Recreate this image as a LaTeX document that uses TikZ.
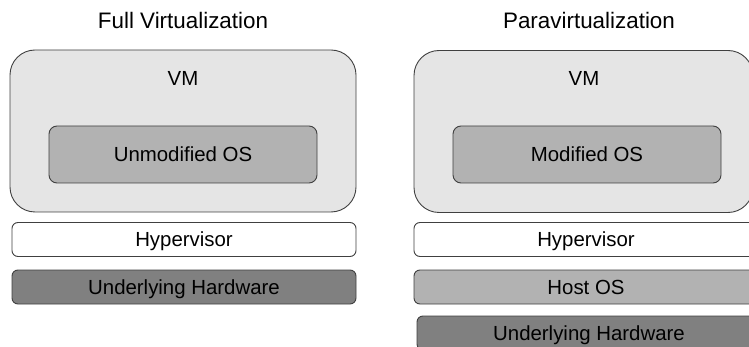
\documentclass[tikz,border=0pt]{standalone}
\usepackage{fontspec}
\setmainfont{Liberation Sans}
\begin{document}
\begin{tikzpicture}[x=1pt,y=-1pt,
  txt/.style={font=\fontsize{20.4}{24}\selectfont, text height=14.6pt, text depth=0pt},
  layer/.style={txt, draw=black!75, line width=0.9pt, rounded corners=6pt,
    minimum width=344pt, minimum height=34pt, inner sep=0pt},
  vmbox/.style={draw=black!75, line width=0.9pt, rounded corners=25pt,
    fill=black!10, minimum height=162pt, inner sep=0pt},
  osbox/.style={txt, draw=black!75, line width=0.9pt, rounded corners=8pt,
    fill=black!30, minimum width=268pt, minimum height=57pt, inner sep=0pt},
  lbl/.style={txt, inner sep=0pt},
  title/.style={inner sep=0pt, font=\fontsize{22.4}{26}\selectfont,
    text height=16pt, text depth=0pt}]
\useasboundingbox (0,0) rectangle (749,347);
\clip (0,0) rectangle (749,347);

% Full virtualization stack
\node[title] (tL) at (183,20.5) {Full Virtualization};
\node[vmbox, minimum width=346pt] (vmL) at (183,131) {};
\node[lbl] (vmLtxt) at (183,78.3) {VM};
\node[osbox] (osL) at (183,154.5) {Unmodified OS};
\node[layer, fill=white] (hypL) at (184,239.5) {Hypervisor};
\node[layer, fill=black!50] (hwL) at (184,287) {Underlying Hardware};

% Paravirtualization stack
\node[title] (tR) at (589,20.5) {Paravirtualization};
\node[vmbox, minimum width=339pt] (vmR) at (583.5,131.5) {};
\node[lbl] (vmRtxt) at (584,78.3) {VM};
\node[osbox] (osR) at (587,154.5) {Modified OS};
\node[layer, fill=white] (hypR) at (586,239.5) {Hypervisor};
\node[layer, fill=black!30] (hostR) at (586,287) {Host OS};
\node[layer, fill=black!50] (hwR) at (589,333) {Underlying Hardware};
\end{tikzpicture}
\end{document}
